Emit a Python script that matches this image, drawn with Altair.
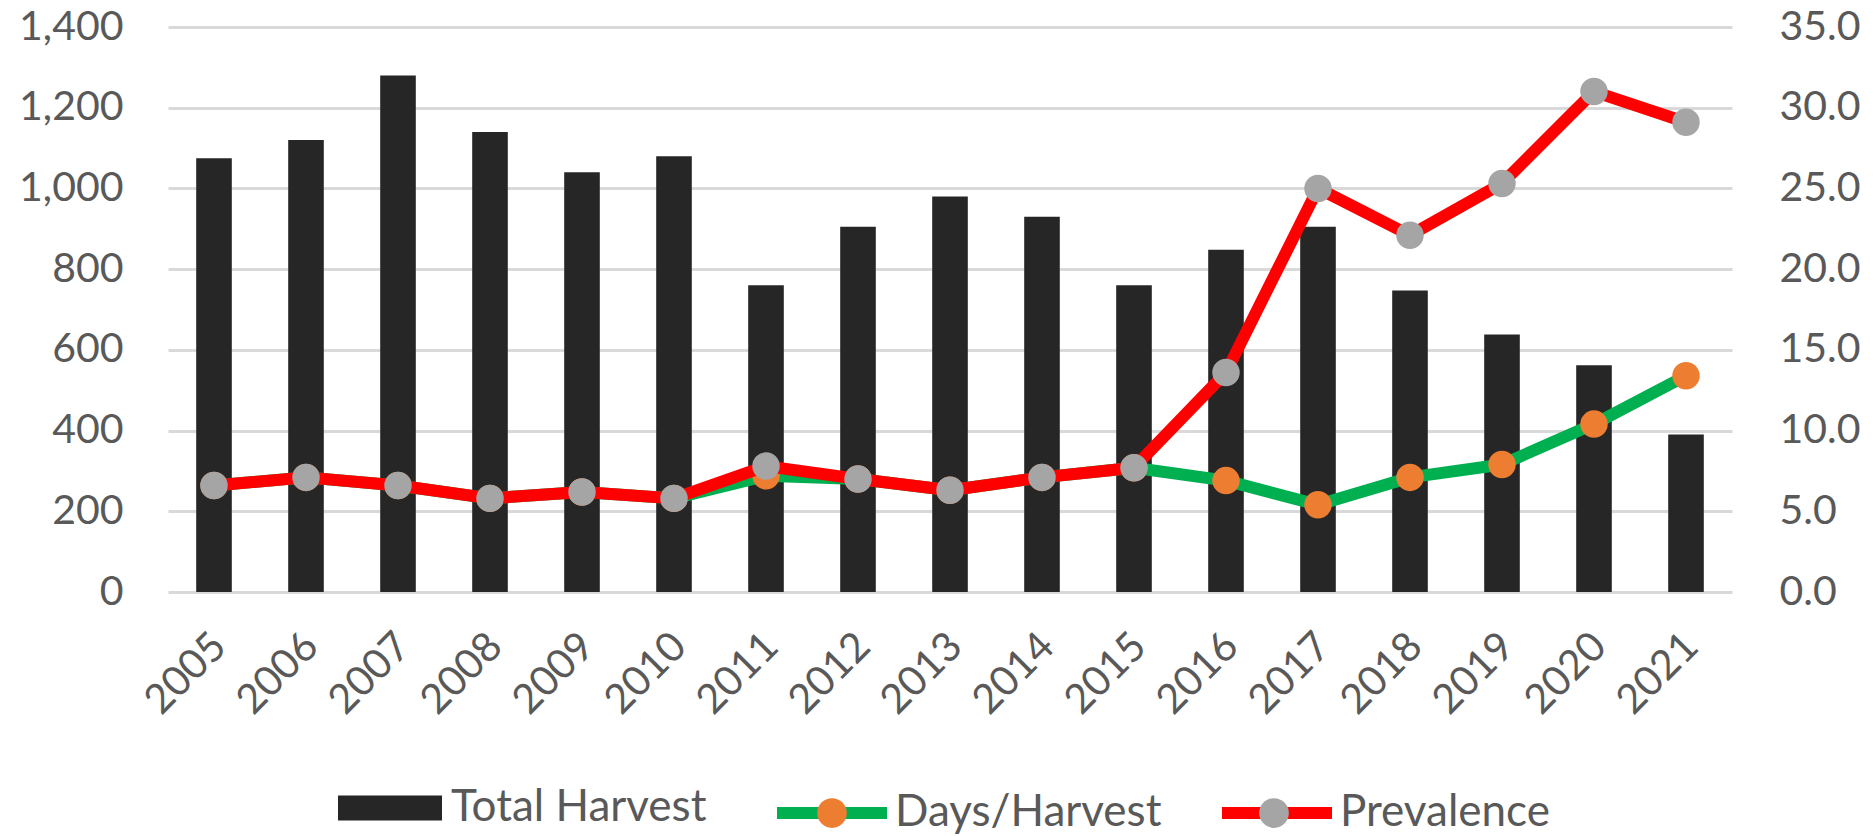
import altair as alt
import pandas as pd

# Annual figures, 2005-2021
years = ["2005", "2006", "2007", "2008", "2009", "2010", "2011", "2012", "2013",
         "2014", "2015", "2016", "2017", "2018", "2019", "2020", "2021"]
total_harvest = [1075, 1120, 1280, 1140, 1040, 1080, 760, 905, 980,
                 930, 760, 848, 905, 747, 638, 562, 390]
days_per_harvest = [6.6, 7.1, 6.6, 5.8, 6.2, 5.8, 7.2, 7.0, 6.3,
                    7.1, 7.7, 6.9, 5.4, 7.1, 7.9, 10.4, 13.4]
prevalence = [6.6, 7.1, 6.6, 5.8, 6.2, 5.8, 7.8, 7.0, 6.3,
              7.1, 7.7, 13.6, 25.0, 22.1, 25.3, 31.0, 29.1]

left_ticks = [0, 200, 400, 600, 800, 1000, 1200, 1400]
right_ticks = [0, 5, 10, 15, 20, 25, 30, 35]

series_names = ["Days/Harvest", "Prevalence"]
line_colors = ["#00b050", "#ff0000"]
marker_colors = ["#ed7d31", "#a5a5a5"]

bars_df = pd.DataFrame({"year": years, "harvest": total_harvest,
                        "series": ["Total Harvest"] * len(years)})
lines_df = pd.DataFrame({
    "year": years * 2,
    "value": days_per_harvest + prevalence,
    "series": [series_names[0]] * len(years) + [series_names[1]] * len(years),
})

FONT = "Lato"
TEXT = "#595959"
LEGEND_SIZE = 44
# round marker drawn in the middle of each line swatch
LEGEND_DOT = "M-0.27,0A0.27,0.27 0 1,0 0.27,0A0.27,0.27 0 1,0 -0.27,0Z"

x_enc = alt.X(
    "year:N",
    sort=years,
    scale=alt.Scale(paddingInner=0.613, paddingOuter=0.3065),
    axis=alt.Axis(title=None, labelAngle=-45, labelAlign="right", labelBaseline="middle",
                  labelPadding=48, labelOffset=6, ticks=False, tickSize=0, domain=False,
                  grid=False, labelFont=FONT, labelFontSize=41, labelColor=TEXT),
)

y_left = alt.Y(
    "harvest:Q",
    scale=alt.Scale(domain=[0, 1400], nice=False),
    axis=alt.Axis(title=None, values=left_ticks, format=",.0f", grid=True,
                  gridColor="#d9d9d9", gridWidth=3, domain=False, ticks=False, tickSize=0,
                  labelPadding=45, labelFont=FONT, labelFontSize=41, labelColor=TEXT),
)

y_right = alt.Y(
    "value:Q",
    scale=alt.Scale(domain=[0, 35], nice=False),
    axis=alt.Axis(title=None, orient="right", values=right_ticks, format=".1f", grid=False,
                  domain=False, ticks=False, tickSize=0, labelPadding=47,
                  labelFont=FONT, labelFontSize=41, labelColor=TEXT),
)

bars = alt.Chart(bars_df).mark_bar().encode(
    x=x_enc,
    y=y_left,
    color=alt.Color(
        "series:N",
        scale=alt.Scale(domain=["Total Harvest"], range=["#262626"]),
        legend=alt.Legend(
            orient="none", legendX=170, legendY=729, direction="horizontal", title=None,
            padding=0, symbolType="M-1,-0.24H1V0.24H-1Z", symbolSize=10816,
            symbolStrokeWidth=0, symbolOpacity=1, labelOffset=9, labelLimit=600,
            labelFont=FONT, labelFontSize=LEGEND_SIZE, labelColor=TEXT,
        ),
    ),
)

# line swatches with their labels
stroke_enc = alt.Stroke(
    "series:N",
    scale=alt.Scale(domain=series_names, range=line_colors),
    legend=alt.Legend(
        orient="none", legendX=603, legendY=725, direction="horizontal", title=None,
        padding=0, symbolType="stroke", symbolSize=12100, symbolStrokeWidth=12,
        columnPadding=36, labelOffset=2, labelLimit=600, zindex=1,
        labelFont=FONT, labelFontSize=LEGEND_SIZE, labelColor=TEXT,
    ),
)

# marker dots laid over the line swatches (no text of their own)
fill_enc = alt.Fill(
    "series:N",
    scale=alt.Scale(range=marker_colors),
    legend=alt.Legend(
        orient="none", legendX=603, legendY=725, direction="horizontal", title=None,
        padding=0, symbolType=LEGEND_DOT, symbolSize=12100, symbolStrokeWidth=12,
        symbolStrokeColor="transparent", symbolOpacity=1, columnPadding=318, labelOffset=2,
        labelExpr="''", zindex=2,
        labelFont=FONT, labelFontSize=LEGEND_SIZE, labelColor=TEXT,
    ),
)

base = alt.Chart(lines_df)


def line_layer(name):
    return base.transform_filter(alt.datum.series == name).mark_line(
        strokeWidth=12, strokeJoin="round", strokeCap="butt"
    ).encode(x=x_enc, y=y_right, stroke=stroke_enc)


def marker_layer(name):
    return base.transform_filter(alt.datum.series == name).mark_point(
        filled=True, shape="circle", size=755, opacity=1, strokeWidth=0
    ).encode(x=x_enc, y=y_right, fill=fill_enc)


right_side = alt.layer(
    line_layer(series_names[0]),
    marker_layer(series_names[0]),
    line_layer(series_names[1]),
    marker_layer(series_names[1]),
)

chart = alt.layer(bars, right_side).resolve_scale(y="independent").properties(
    width=1564,
    height=565,
    autosize=alt.AutoSizeParams(type="none"),
    padding={"left": 168, "top": 27, "right": 144, "bottom": 244},
    background="white",
).configure_view(stroke=None)

chart.save("out.html", embed_options={"renderer": "svg", "actions": False})
